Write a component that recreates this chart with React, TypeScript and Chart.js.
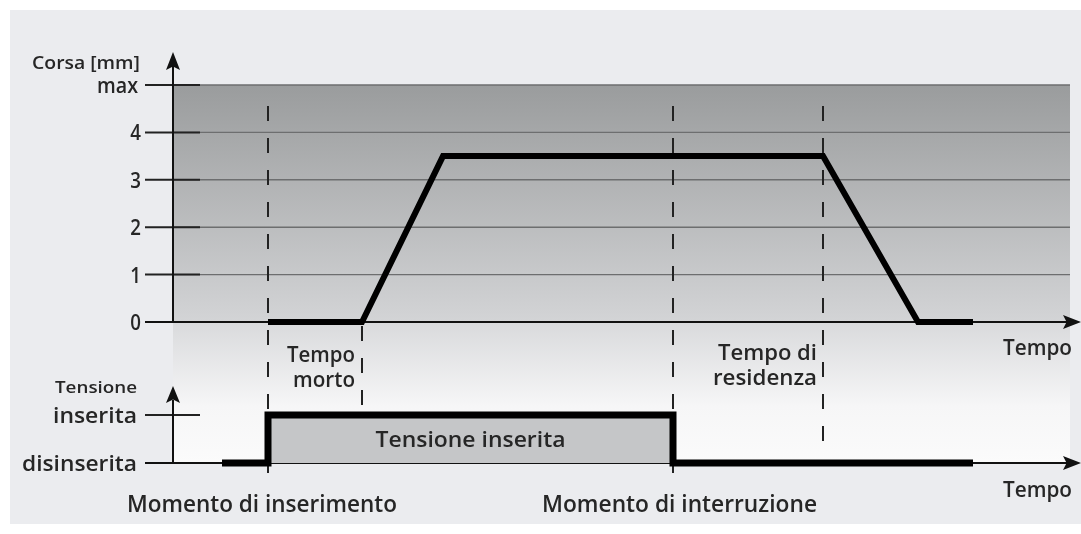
import React, { useEffect, useRef } from "react";
import { Chart, registerables } from "chart.js";

Chart.register(...registerables);

// ---- data (time in arbitrary units, stroke in mm, voltage 0/1) ----
const strokeTimes = [9.5, 18.9, 27.0, 65.0, 74.5, 80.0];
const strokeValues = [0, 0, 3.5, 3.5, 0, 0];
const voltageTimes = [4.9, 9.5, 9.5, 50.0, 50.0, 80.0];
const voltageValues = [0, 0, 1, 1, 0, 0];
const strokeTicks = [0, 1, 2, 3, 4, 5];
const strokeTickLabels = ["0", "1", "2", "3", "4", "max"];
const voltageTicks = [0, 1];
const voltageTickLabels = ["disinserita", "inserita"];
// switch-on, end of dead time, switch-off, end of dwell time
const markerTimes = [9.5, 18.9, 50.0, 65.0];

const FONT = '"Open Sans", "DejaVu Sans", sans-serif';
const INK = "#262626";

function txt(
  ctx: CanvasRenderingContext2D,
  s: string,
  x: number,
  y: number,
  size: number,
  align: "left" | "right" | "center",
  width?: number,
  weight = 600
) {
  ctx.save();
  ctx.font = `${weight} ${size}px ${FONT}`;
  ctx.fillStyle = INK;
  ctx.textBaseline = "alphabetic";
  ctx.textAlign = "left";
  const w = ctx.measureText(s).width;
  const sx = width ? width / w : 0.85;
  const left = align === "left" ? x : align === "right" ? x - w * sx : x - (w * sx) / 2;
  ctx.translate(left, y);
  ctx.scale(sx, 1);
  ctx.fillText(s, 0, 0);
  ctx.restore();
}

function line(ctx: CanvasRenderingContext2D, x1: number, y1: number, x2: number, y2: number, color: string, w: number) {
  ctx.save();
  ctx.strokeStyle = color;
  ctx.lineWidth = w;
  ctx.beginPath();
  ctx.moveTo(x1, y1);
  ctx.lineTo(x2, y2);
  ctx.stroke();
  ctx.restore();
}

function arrowHead(ctx: CanvasRenderingContext2D, tx: number, ty: number, dir: "up" | "right", len: number, half: number) {
  ctx.save();
  ctx.fillStyle = "#111";
  ctx.beginPath();
  if (dir === "up") {
    ctx.moveTo(tx, ty);
    ctx.lineTo(tx + half, ty + len);
    ctx.lineTo(tx, ty + len * 0.8);
    ctx.lineTo(tx - half, ty + len);
  } else {
    ctx.moveTo(tx, ty);
    ctx.lineTo(tx - len, ty - half);
    ctx.lineTo(tx - len * 0.8, ty);
    ctx.lineTo(tx - len, ty + half);
  }
  ctx.closePath();
  ctx.fill();
  ctx.restore();
}

function dashed(ctx: CanvasRenderingContext2D, x: number, y1: number, y2: number) {
  ctx.save();
  ctx.strokeStyle = "#222";
  ctx.lineWidth = 2;
  ctx.setLineDash([15, 17]);
  ctx.beginPath();
  ctx.moveTo(x, y1);
  ctx.lineTo(x, y2);
  ctx.stroke();
  ctx.restore();
}

const diagramPlugin = {
  id: "diagram",
  beforeDraw(chart: any) {
    const ctx: CanvasRenderingContext2D = chart.ctx;
    const xs = chart.scales.x;
    const ys = chart.scales.y;
    const vs = chart.scales.y2;
    const area = chart.chartArea;
    const L = area.left;
    const R = area.right;
    const y0 = ys.getPixelForValue(0);
    const yMax = ys.getPixelForValue(5);
    const v0 = vs.getPixelForValue(0);
    const v1 = vs.getPixelForValue(1);

    // page + panel
    ctx.save();
    ctx.fillStyle = "#ffffff";
    ctx.fillRect(0, 0, chart.width, chart.height);
    ctx.fillStyle = "#ebecef";
    ctx.fillRect(10, 10, chart.width - 10, 514);

    // dark band
    const g = ctx.createLinearGradient(0, yMax, 0, y0);
    g.addColorStop(0, "#9a9c9d");
    g.addColorStop(1, "#d3d4d6");
    ctx.fillStyle = g;
    ctx.fillRect(L, yMax, R - L, y0 - yMax);

    // lighter area below
    const g2 = ctx.createLinearGradient(0, y0, 0, v0);
    g2.addColorStop(0, "#d9dadc");
    g2.addColorStop(0.6, "#f6f6f7");
    g2.addColorStop(1, "#fbfbfb");
    ctx.fillStyle = g2;
    ctx.fillRect(L, y0, R - L, v0 - y0);
    ctx.restore();

    // grid + ticks for stroke
    strokeTicks.forEach((v, i) => {
      const py = ys.getPixelForValue(v);
      if (v > 0) line(ctx, L, py, R, py, "#6d6e6f", 1.4);
      line(ctx, 145, py, 200, py, "#222", 2);
      if (i < strokeTicks.length - 1) {
        txt(ctx, strokeTickLabels[i], 141, py + 8, 22, "right", undefined);
      } else {
        txt(ctx, strokeTickLabels[i], 138, py + 8, 21, "right", 41);
      }
    });
    txt(ctx, "Corsa [mm]", 140, 69, 18, "right", 108);

    // stroke axes
    line(ctx, L, y0, L, 66, "#111", 2);
    arrowHead(ctx, L, 52, "up", 18, 7);
    line(ctx, 145, y0, 1070, y0, "#111", 2);
    arrowHead(ctx, 1081, y0, "right", 18, 7);
    txt(ctx, "Tempo", 1072, 355, 22, "right", 69);

    // voltage axes
    line(ctx, 145, v1, 200, v1, "#222", 2);
    line(ctx, L, v0, L, 400, "#111", 2);
    arrowHead(ctx, L, 386, "up", 17, 7);
    line(ctx, 145, v0, 1070, v0, "#111", 2);
    arrowHead(ctx, 1081, v0, "right", 18, 7);
    txt(ctx, "Tempo", 1072, 497, 22, "right", 69);
    txt(ctx, "Tensione", 137, 393, 17, "right", 82);
    txt(ctx, voltageTickLabels[1], 137, v1 + 8, 21, "right", 84);
    txt(ctx, voltageTickLabels[0], 137, v0 + 8, 21, "right", 115);

    // dashed event markers
    const [tOn, tDead, tOff, tDwell] = markerTimes.map((t) => xs.getPixelForValue(t));
    dashed(ctx, tOn, 106, 482);
    dashed(ctx, tDead, 326, 410);
    dashed(ctx, tOff, 106, 490);
    dashed(ctx, tDwell, 106, 452);

    // labels
    txt(ctx, "Tempo", 355, 362, 21, "right", 68);
    txt(ctx, "morto", 355, 387, 21, "right", 62);
    txt(ctx, "Tempo di", 817, 360, 21, "right", 99);
    txt(ctx, "residenza", 817, 385, 21, "right", 104);
    txt(ctx, "Momento di inserimento", 127, 512, 23, "left", 270);
    txt(ctx, "Momento di interruzione", 542, 512, 23, "left", 275);
  },
  afterDatasetsDraw(chart: any) {
    const ctx: CanvasRenderingContext2D = chart.ctx;
    const xs = chart.scales.x;
    const vs = chart.scales.y2;
    const cx = (xs.getPixelForValue(markerTimes[0]) + xs.getPixelForValue(markerTimes[2])) / 2;
    const cy = (vs.getPixelForValue(0) + vs.getPixelForValue(1)) / 2;
    txt(ctx, "Tensione inserita", cx, cy + 8, 21, "center", 190);
  },
};

export default function App() {
  const ref = useRef<HTMLCanvasElement>(null);
  useEffect(() => {
    const canvas = ref.current!;
    const fillPts = voltageTimes
      .map((t, i) => ({ x: t, y: voltageValues[i] }))
      .filter((p) => p.y === 1);
    const chart = new Chart(canvas, {
      type: "line",
      data: {
        datasets: [
          {
            label: "Corsa",
            data: strokeTimes.map((t, i) => ({ x: t, y: strokeValues[i] })),
            yAxisID: "y",
            borderColor: "#000",
            borderWidth: 6,
            pointRadius: 0,
            tension: 0,
            fill: false,
            clip: false,
            order: 1,
            borderJoinStyle: "miter",
            borderCapStyle: "butt",
          },
          {
            label: "Tensione",
            data: voltageTimes.map((t, i) => ({ x: t, y: voltageValues[i] })),
            yAxisID: "y2",
            borderColor: "#000",
            borderWidth: 7,
            pointRadius: 0,
            tension: 0,
            fill: false,
            clip: false,
            order: 1,
            borderJoinStyle: "miter",
            borderCapStyle: "butt",
          },
          {
            label: "Tensione inserita",
            data: fillPts,
            yAxisID: "y2",
            borderWidth: 0,
            borderColor: "rgba(0,0,0,0)",
            backgroundColor: "#c5c6c8",
            pointRadius: 0,
            fill: { value: 0 },
            clip: false,
            order: 3,
          },
        ],
      } as any,
      options: {
        responsive: false,
        animation: false,
        events: [],
        layout: { padding: { left: 173, right: 11, top: 85, bottom: 71 } },
        scales: {
          x: { type: "linear", min: 0, max: 89.7, display: false },
          y: { type: "linear", min: -2.975, max: 5, display: false },
          y2: { type: "linear", min: 0, max: 7.875, display: false, position: "left" },
        },
        plugins: { legend: { display: false }, tooltip: { enabled: false } },
      } as any,
      plugins: [diagramPlugin as any],
    });
    return () => chart.destroy();
  }, []);
  return (
    <div style={{ position: "fixed", left: 0, top: 0, width: 1081, height: 534 }}>
      <canvas ref={ref} width={1081} height={534} style={{ display: "block", width: 1081, height: 534 }} />
    </div>
  );
}
